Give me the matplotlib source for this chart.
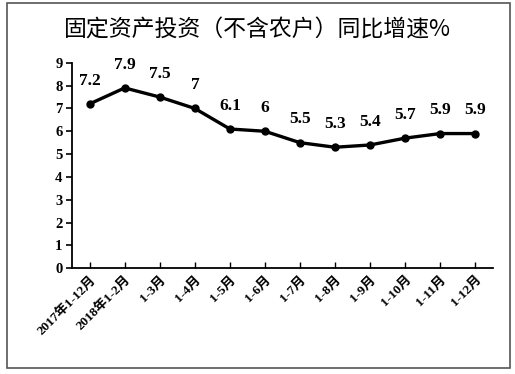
import matplotlib.pyplot as plt
from matplotlib.patches import Rectangle

plt.rcParams['font.family'] = ['Liberation Serif', 'Noto Sans CJK SC']

# 固定资产投资（不含农户）同比增速
months = ['2017年1-12月', '2018年1-2月', '1-3月', '1-4月', '1-5月', '1-6月',
          '1-7月', '1-8月', '1-9月', '1-10月', '1-11月', '1-12月']
growth = [7.2, 7.9, 7.5, 7, 6.1, 6, 5.5, 5.3, 5.4, 5.7, 5.9, 5.9]
value_labels = ['7.2', '7.9', '7.5', '7', '6.1', '6', '5.5', '5.3', '5.4', '5.7', '5.9', '5.9']

fig = plt.figure(figsize=(5.15, 3.74), dpi=100)
ax = fig.add_axes([0.140, 0.283, 0.817, 0.549])

x = list(range(len(months)))
ax.plot(x, growth, color='black', lw=2.4, marker='o', ms=5, zorder=3)
for xi, v, s in zip(x, growth, value_labels):
    ax.annotate(s, (xi, v), xytext=(0, 11), textcoords='offset points',
                ha='center', va='bottom', fontsize=12.5, fontweight='bold')

ax.set_xlim(-0.5, 11.5)
ax.set_ylim(0, 9)
ax.set_yticks(range(10))
ax.set_xticks(x)
ax.set_xticklabels(months, rotation=45, ha='right', rotation_mode='anchor',
                   fontsize=9.5, fontweight='bold')
for lab in ax.get_yticklabels():
    lab.set_fontweight('bold')
    lab.set_fontsize(10.5)
ax.tick_params(axis='y', direction='out', length=4, width=1.2, pad=3)
ax.tick_params(axis='x', direction='in', length=4, width=1.0, pad=4)
for side in ['top', 'right']:
    ax.spines[side].set_visible(False)
ax.spines['left'].set_linewidth(1.3)
ax.spines['bottom'].set_linewidth(1.3)

fig.text(0.5, 0.92, '固定资产投资（不含农户）同比增速%', ha='center', va='center',
         fontsize=16.5, family=['Noto Sans CJK SC', 'DejaVu Sans'])

fig.patches.append(Rectangle((7 / 515, 1 - 368 / 374), 503 / 515, 365 / 374,
                             transform=fig.transFigure, fill=False,
                             edgecolor='#555555', lw=1.2))

fig.savefig('out.png', dpi=100)
